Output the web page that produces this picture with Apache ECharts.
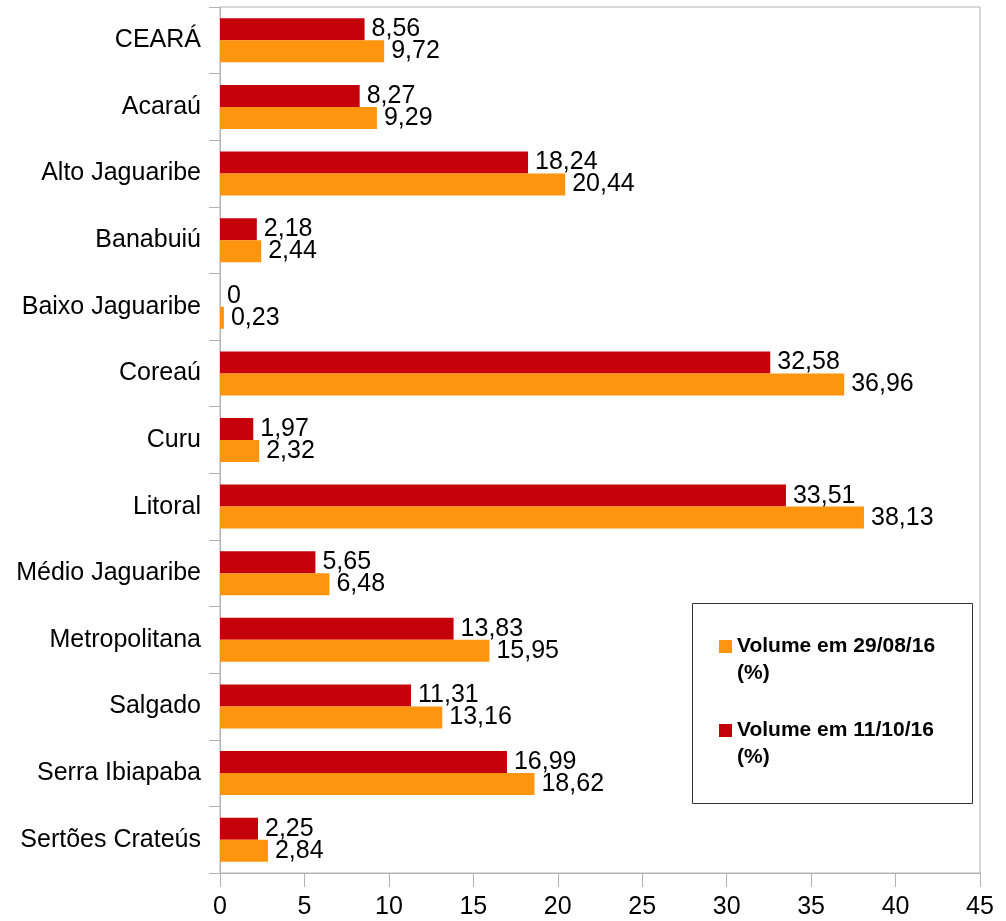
<!DOCTYPE html>
<html>
<head>
<meta charset="utf-8">
<script src="https://cdn.jsdelivr.net/npm/echarts@6/dist/echarts.min.js"></script>
<style>
html,body{margin:0;padding:0;background:#fff;}
#chart{width:1006px;height:921px;}
</style>
</head>
<body>
<div id="chart"></div>
<script>
const categories = ['CEARÁ','Acaraú','Alto Jaguaribe','Banabuiú','Baixo Jaguaribe','Coreaú','Curu','Litoral','Médio Jaguaribe','Metropolitana','Salgado','Serra Ibiapaba','Sertões Crateús'];
const volume1110 = [8.56, 8.27, 18.24, 2.18, 0, 32.58, 1.97, 33.51, 5.65, 13.83, 11.31, 16.99, 2.25];
const volume2908 = [9.72, 9.29, 20.44, 2.44, 0.23, 36.96, 2.32, 38.13, 6.48, 15.95, 13.16, 18.62, 2.84];
const seriesNames = ['Volume em 29/08/16\n(%)', 'Volume em 11/10/16\n(%)'];
const xTicks = {min: 0, max: 45, interval: 5};

const FONT = '"Liberation Sans", Arial, sans-serif';
const chart = echarts.init(document.getElementById('chart'), null, {renderer: 'canvas'});
const fmt = p => String(p.value).replace('.', ',');
const labelCfg = {show: true, position: 'right', distance: 7, color: '#000', fontFamily: FONT, fontSize: 25, formatter: fmt};

chart.setOption({
  animation: false,
  backgroundColor: '#fff',
  grid: {left: 220, right: 26, top: 7, bottom: 48, show: true, borderColor: '#b3b3b3', borderWidth: 1, containLabel: false},
  xAxis: {
    type: 'value', min: xTicks.min, max: xTicks.max, interval: xTicks.interval,
    axisLine: {show: true, lineStyle: {color: '#b3b3b3'}},
    axisTick: {show: true, length: 14, lineStyle: {color: '#b3b3b3'}},
    splitLine: {show: false},
    axisLabel: {color: '#000', fontFamily: FONT, fontSize: 25, margin: 22}
  },
  yAxis: {
    type: 'category', data: categories, inverse: true,
    axisLine: {show: true, lineStyle: {color: '#b3b3b3'}},
    axisTick: {show: true, length: 11, alignWithLabel: false, lineStyle: {color: '#b3b3b3'}},
    axisLabel: {color: '#000', fontFamily: FONT, fontSize: 25, margin: 19}
  },
  legend: {
    orient: 'vertical', left: 719, top: 606, padding: 0, itemGap: 3,
    itemWidth: 13, itemHeight: 13, icon: 'rect',
    data: [seriesNames[0], seriesNames[1]],
    formatter: name => '\n' + name,
    textStyle: {color: '#000', fontFamily: FONT, fontSize: 21, fontWeight: 'bold', lineHeight: 27}
  },
  graphic: [{
    type: 'rect', left: 692, top: 603, z: -1,
    shape: {width: 280, height: 200},
    style: {fill: '#fff', stroke: '#333', lineWidth: 1}
  }],
  series: [
    {name: seriesNames[1], type: 'bar', data: volume1110, barWidth: 22, barGap: '0%', itemStyle: {color: '#C5000B'}, label: labelCfg},
    {name: seriesNames[0], type: 'bar', data: volume2908, barWidth: 22, barGap: '0%', itemStyle: {color: '#FF950E'}, label: labelCfg}
  ]
});
</script>
</body>
</html>
